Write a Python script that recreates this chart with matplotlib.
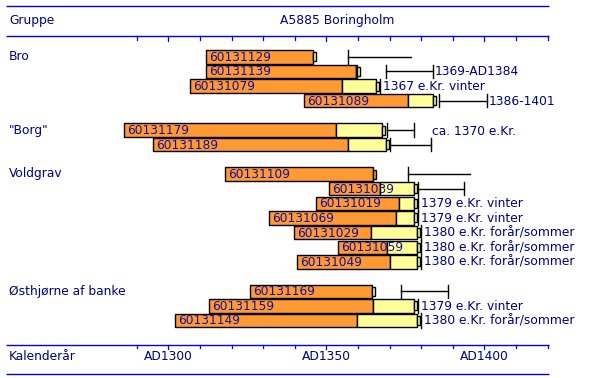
import matplotlib
matplotlib.use("Agg")
import matplotlib.pyplot as plt
from matplotlib.patches import Rectangle

# ---------------- data ----------------
title = "A5885 Boringholm"
header_left = "Gruppe"
footer_left = "Kalenderår"

groups = ["Bro", "\"Borg\"", "Voldgrav", "Østhjørne af banke"]
group_sizes = [4, 2, 7, 3]

samples = ["60131129", "60131139", "60131079", "60131089",
           "60131179", "60131189",
           "60131109", "60131039", "60131019", "60131069", "60131029", "60131059", "60131049",
           "60131169", "60131159", "60131149"]
start_year = [1312.0, 1312.0, 1307.0, 1343.0,
              1286.1, 1295.3,
              1318.0, 1351.0, 1346.8, 1331.9, 1339.9, 1353.8, 1340.8,
              1326.0, 1313.0, 1302.2]
heartwood_end = [1345.7, 1359.3, 1355.1, 1376.0,
                 1353.0, 1357.0,
                 1364.7, 1367.0, 1372.9, 1372.0, 1364.0, 1369.3, 1370.0,
                 1364.4, 1364.9, 1359.8]
sapwood_end = [1345.7, 1359.8, 1365.6, 1383.7,
               1367.5, 1368.8,
               1364.7, 1377.7, 1377.7, 1377.7, 1378.8, 1378.8, 1378.8,
               1364.4, 1377.7, 1378.7]
cap_colour = ["y", "y", "y", "y",
              "y", "y",
              "o", "y", "y", "y", "y", "y", "y",
              "y", "y", "y"]
# felling-date estimate: kind, low, high
fell_kind = ["open", "range", "bark", "range",
             "range", "range",
             "open", "range", "bark", "bark", "bark", "bark", "bark",
             "range", "bark", "bark"]
fell_low = [1357.0, 1368.9, 1367.0, 1385.8,
            1369.1, 1370.2,
            1376.0, 1378.9, 1379.0, 1379.0, 1380.0, 1380.0, 1380.0,
            1373.7, 1379.0, 1380.0]
fell_high = [1376.8, 1383.9, 1367.0, 1400.8,
             1377.8, 1383.0,
             1395.5, 1393.7, 1379.0, 1379.0, 1380.0, 1380.0, 1380.0,
             1388.4, 1379.0, 1380.0]
fell_text = ["", "1369-AD1384", "1367 e.Kr. vinter", "1386-1401",
             "", "",
             "", "", "1379 e.Kr. vinter", "1379 e.Kr. vinter",
             "1380 e.Kr. forår/sommer", "1380 e.Kr. forår/sommer", "1380 e.Kr. forår/sommer",
             "", "1379 e.Kr. vinter", "1380 e.Kr. forår/sommer"]
group_note = ["", "ca. 1370 e.Kr.", "", ""]

tick_years = list(range(1290, 1421, 10))
label_years = [1300, 1350, 1400]

# ---------------- layout ----------------
W, H = 616, 378
px_per_year = 3.16
x_1300 = 168.3
def yr(px):
    return 1300 + (px - x_1300) / px_per_year

ORANGE = "#FF9933"
YELLOW = "#FFFF99"
NAVY = "#000080"
BLUE = "#0000EE"
LABEL = "#1010A0"
FS = 8.8

fig = plt.figure(figsize=(W / 100, H / 100), dpi=100)
ax = fig.add_axes([0, 0, 1, 1])
ax.set_xlim(yr(0), yr(W))
ax.set_ylim(H, 0)
ax.axis("off")

x_left, x_right = yr(6), yr(549)

# header / footer rules
for yy in (5.5, 35.5, 344.5, 373.5):
    ax.plot([x_left, x_right], [yy, yy], color=BLUE, lw=1.0, solid_capstyle="butt")
for t in tick_years:
    L = 5 if t in label_years else 4
    ax.plot([t, t], [35.5, 35.5 + L], color=BLUE, lw=0.9)
    ax.plot([t, t], [344.5, 344.5 + L - 1], color=BLUE, lw=0.9)
for t in label_years:
    ax.text(t, 357, f"AD{t}", ha="center", va="center", color=NAVY, fontsize=FS)

ax.text(yr(9), 20.5, header_left, ha="left", va="center", color=NAVY, fontsize=FS)
ax.text(yr(337), 20.5, title, ha="center", va="center", color=NAVY, fontsize=FS)
ax.text(yr(9), 357, footer_left, ha="left", va="center", color=NAVY, fontsize=FS)

# rows
y0, dy = 56.8, 14.65
bh, ch = 13.4, 9.0
cap_w = 1.0
row = 0
k = 0
for gi, (g, n) in enumerate(zip(groups, group_sizes)):
    ax.text(yr(9), y0 + row * dy, g, ha="left", va="center", color=NAVY, fontsize=FS)
    first_row = row
    for j in range(n):
        yc = y0 + row * dy
        s, h, e = start_year[k], heartwood_end[k], sapwood_end[k]
        ax.add_patch(Rectangle((s, yc - bh / 2), h - s, bh, facecolor=ORANGE,
                               edgecolor="black", lw=1.0, zorder=2))
        if e > h:
            ax.add_patch(Rectangle((h, yc - bh / 2), e - h, bh, facecolor=YELLOW,
                                   edgecolor="black", lw=1.0, zorder=2))
        cc = ORANGE if cap_colour[k] == "o" else YELLOW
        ax.add_patch(Rectangle((e, yc - ch / 2), cap_w, ch, facecolor=cc,
                               edgecolor="black", lw=1.0, zorder=3))
        ax.text(s + 0.9, yc + 0.5, samples[k], ha="left", va="center",
                color=LABEL, fontsize=FS, zorder=4)
        kind = fell_kind[k]
        lo, hi = fell_low[k], fell_high[k]
        if kind in ("range", "open"):
            ax.plot([lo, hi], [yc, yc], color="black", lw=1.0, zorder=2)
            ax.plot([lo, lo], [yc - bh / 2, yc + bh / 2], color="black", lw=1.0)
            if kind == "range":
                ax.plot([hi, hi], [yc - bh / 2, yc + bh / 2], color="black", lw=1.0)
            if fell_text[k]:
                ax.text(hi + 0.5, yc + 0.5, fell_text[k], ha="left", va="center",
                        color=NAVY, fontsize=FS)
        else:
            ax.plot([lo, lo], [yc - bh / 2 - 0.5, yc + bh / 2 + 0.5], color="black", lw=1.0)
            ax.text(lo + 0.9, yc + 0.5, fell_text[k], ha="left", va="center",
                    color=NAVY, fontsize=FS)
        row += 1
        k += 1
    if group_note[gi]:
        last = k - 1
        ax.text(fell_high[last] + 0.3, y0 + first_row * dy + 1, group_note[gi],
                ha="left", va="center", color=NAVY, fontsize=FS)
    row += 1

fig.savefig("out.png", dpi=100)
